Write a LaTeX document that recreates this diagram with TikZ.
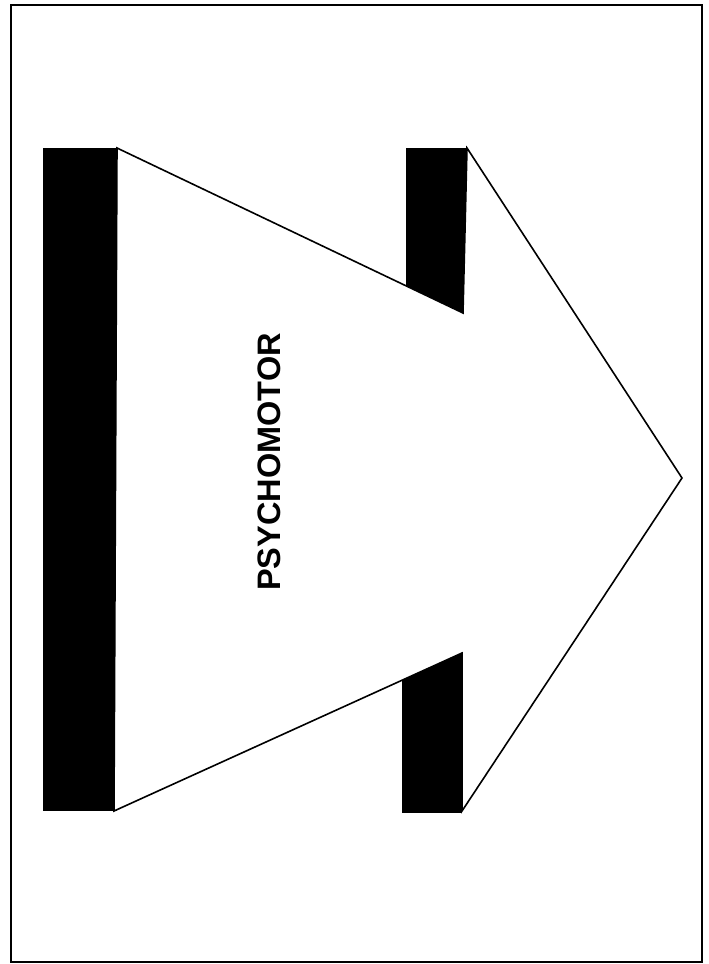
\documentclass[tikz,border=0pt]{standalone}
\usepackage{fontspec}
\setmainfont{Liberation Sans}
\tikzset{
  framebox/.style={draw=black, line width=2pt},
  barfill/.style={fill=black},
  arrowshape/.style={draw=black, fill=white, line width=1.6pt, line join=miter},
  labeltext/.style={rotate=90, font=\bfseries\fontsize{32.5}{32.5}\selectfont, inner sep=0pt}
}
\begin{document}
\begin{tikzpicture}[x=1pt,y=-1pt]
\useasboundingbox (0,0) rectangle (709,964);
\fill[white] (0,0) rectangle (709,964);
\draw[framebox] (11,5) rectangle (702,962);
% black bars
\fill[barfill] (43,148) rectangle (117,811);
\fill[barfill] (406,148) rectangle (467,320);
\fill[barfill] (402,645) rectangle (462,813);
% big white arrow
\filldraw[arrowshape] (117,148) -- (463,313) -- (467,148) -- (682,478) -- (462,811) -- (462,653) -- (114,811) -- cycle;
\node[labeltext] (label) at (269,462) {PSYCHOMOTOR};
\end{tikzpicture}
\end{document}
